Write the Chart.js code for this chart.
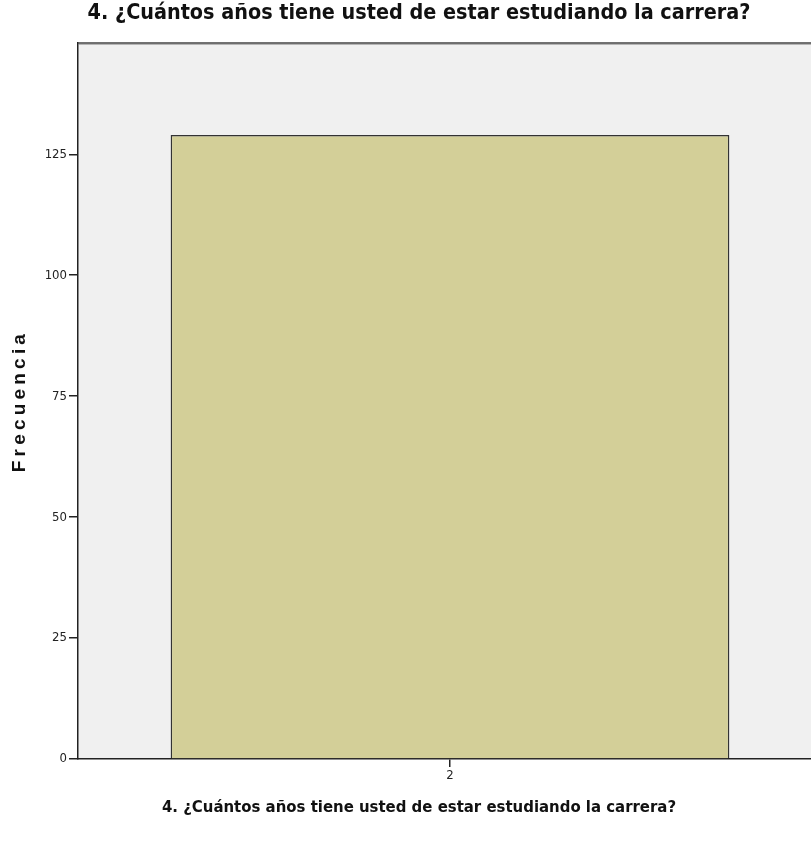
<!DOCTYPE html>
<html>
<head>
<meta charset="utf-8">
<script src="https://cdn.jsdelivr.net/npm/chart.js@4/dist/chart.umd.min.js"></script>
<style>
  html, body { margin: 0; padding: 0; background: #fff; overflow: hidden; }
  #wrap { width: 811px; height: 842px; overflow: hidden; }
  #box { width: 840px; height: 842px; position: relative; }
</style>
</head>
<body>
<div id="wrap"><div id="box"><canvas id="c"></canvas></div></div>
<script>
// Frequency of answers to question 4
const categories = ['2'];
const frequencies = [129];
const yTicks = [0, 25, 50, 75, 100, 125];
const yMax = 148;
const chartTitle = '4. ¿Cuántos años tiene usted de estar estudiando la carrera?';
const xTitle = '4. ¿Cuántos años tiene usted de estar estudiando la carrera?';
const yTitle = 'Frecuencia';

const narrow = "'Liberation Sans Narrow', 'Arial Narrow', 'DejaVu Sans Condensed', 'Liberation Sans', sans-serif";
const wide = "'Liberation Sans', Arial, sans-serif";

// grey plot panel with a dark frame
const plotFrame = {
  id: 'plotFrame',
  beforeDraw(chart) {
    const { ctx, chartArea: a } = chart;
    ctx.save();
    ctx.fillStyle = '#f0f0f0';
    ctx.fillRect(a.left, a.top, a.right - a.left, a.bottom - a.top);
    ctx.restore();
  },
  afterDatasetsDraw(chart) {
    const { ctx, chartArea: a } = chart;
    ctx.save();
    ctx.strokeStyle = '#444';
    ctx.lineWidth = 1.5;
    ctx.beginPath();
    ctx.moveTo(a.left, a.top);
    ctx.lineTo(a.right, a.top);
    ctx.lineTo(a.right, a.bottom);
    ctx.stroke();
    ctx.strokeStyle = 'rgba(120,120,120,0.5)';
    ctx.lineWidth = 1;
    ctx.beginPath();
    ctx.moveTo(a.left, a.top + 1.5);
    ctx.lineTo(a.right, a.top + 1.5);
    ctx.stroke();
    ctx.restore();
  }
};

// spread the letters of the vertical axis title
const spacedTitle = {
  id: 'spacedTitle',
  beforeDraw(chart) {
    const s = chart.scales.y;
    if (!s || s._spaced) return;
    const orig = s.drawTitle.bind(s);
    s.drawTitle = function () {
      const ctx = this.ctx;
      const prev = ctx.letterSpacing;
      ctx.letterSpacing = '4.2px';
      orig();
      ctx.letterSpacing = prev;
    };
    s._spaced = true;
  }
};

new Chart(document.getElementById('c'), {
  type: 'bar',
  data: {
    labels: categories,
    datasets: [{
      data: frequencies,
      backgroundColor: '#d3cf98',
      borderColor: '#333333',
      borderWidth: 1.5,
      barPercentage: 0.751,
      categoryPercentage: 1
    }]
  },
  options: {
    responsive: true,
    maintainAspectRatio: false,
    animation: false,
    layout: { padding: { left: 16, right: 18, top: 0, bottom: 0 } },
    plugins: {
      legend: { display: false },
      tooltip: { enabled: false },
      title: {
        display: true,
        text: chartTitle,
        color: '#111',
        font: { family: narrow, size: 21.4, weight: 'bold' },
        padding: { top: 0.5, bottom: 16.8 }
      },
      subtitle: {
        display: true,
        position: 'bottom',
        text: xTitle,
        color: '#111',
        font: { family: narrow, size: 16.6, weight: 'bold' },
        padding: { top: 0, bottom: 24 }
      }
    },
    scales: {
      x: {
        type: 'category',
        offset: true,
        afterFit(s) { s.height = 39; },
        grid: {
          offset: false,
          drawOnChartArea: false,
          drawTicks: true,
          tickLength: 8,
          color: '#222',
          lineWidth: 1.5
        },
        border: { display: true, color: '#222', width: 1.5 },
        ticks: { color: '#222', font: { family: narrow, size: 13 }, padding: 1 }
      },
      y: {
        min: 0,
        max: yMax,
        afterFit(s) { s.width = 62; },
        afterBuildTicks(s) { s.ticks = yTicks.map(v => ({ value: v })); },
        grid: {
          drawOnChartArea: false,
          drawTicks: true,
          tickLength: 9,
          color: '#222',
          lineWidth: 1.5
        },
        border: { display: true, color: '#222', width: 1.5 },
        ticks: { color: '#222', font: { family: narrow, size: 13 }, padding: 2 },
        title: {
          display: true,
          text: yTitle,
          color: '#111',
          font: { family: wide, size: 19, weight: 'bold' },
          padding: { top: -8, bottom: 0 }
        }
      }
    }
  },
  plugins: [plotFrame, spacedTitle]
});
</script>
</body>
</html>
